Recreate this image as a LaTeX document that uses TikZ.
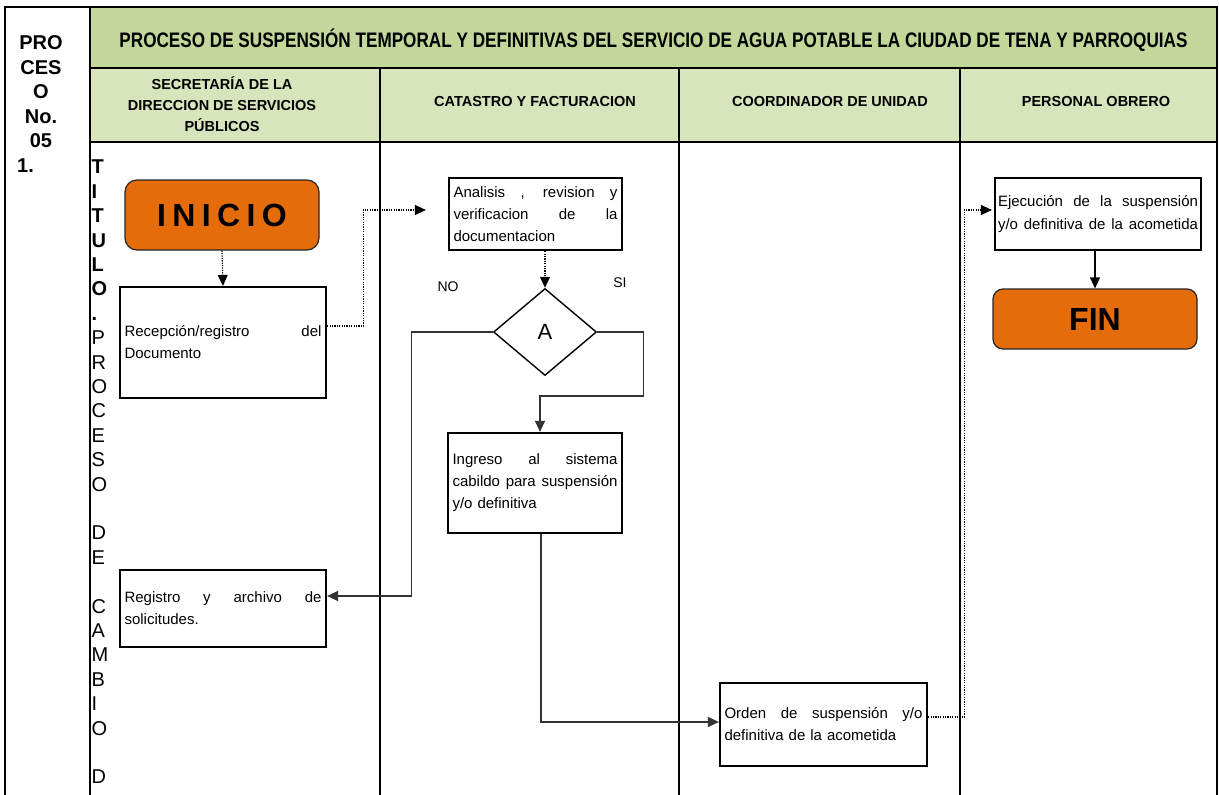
\documentclass[tikz,border=0pt]{standalone}
\usepackage{fontspec}
\setmainfont{Liberation Sans}
\usepackage{graphicx}
\usetikzlibrary{shapes.geometric,arrows.meta}

\definecolor{titlegreen}{RGB}{196,215,155}
\definecolor{headgreen}{RGB}{216,228,188}
\definecolor{startorange}{RGB}{228,108,10}
% a line stretched to the full text width (justified line); the node's
% left alignment fixes the interword space, so restore the font's glue
\newcommand{\fullline}[1]{\makebox[\linewidth][s]{\spaceskip=0pt\xspaceskip=0pt\relax #1}}

\begin{document}
\begin{tikzpicture}[x=1pt,y=-1pt,
  frame/.style={line width=2.8pt},
  procbox/.style={draw, line width=2.2pt, fill=white, inner xsep=4.5pt, inner ysep=0pt,
    align=left, font=\fontsize{15}{22}\selectfont},
  terminal/.style={draw=black!85, line width=1.2pt, fill=startorange, rounded corners=12pt,
    inner sep=0pt, font=\fontsize{32}{32}\selectfont\bfseries},
  decision/.style={diamond, aspect=1.18, draw, line width=1.4pt, fill=white, inner sep=0pt,
    minimum width=103pt, minimum height=87pt, font=\fontsize{22}{22}\selectfont},
  conn/.style={draw=black!80, line width=1.3pt, -{Triangle[length=11pt,width=10pt]}},
  dotconn/.style={draw=black, line width=1.2pt, dash pattern=on 1.2pt off 1.2pt,
    -{Triangle[length=11pt,width=10pt]}},
  lanehead/.style={font=\fontsize{14.5}{21}\selectfont\bfseries, align=center, inner sep=0pt},
  branch/.style={font=\fontsize{14}{14}\selectfont, inner sep=0pt},
]
\useasboundingbox (0,0) rectangle (1219,795);

% table frame and header bands
\fill[titlegreen] (90,7) rectangle (1217,68);
\fill[headgreen] (90,68) rectangle (1217,142);
\draw[frame] (5,795) -- (5,7) -- (1217,7) -- (1217,795);
\draw[frame] (90,7) -- (90,795);
\draw[frame] (90,68) -- (1217,68);
\draw[frame] (90,142) -- (1217,142);
\foreach \x in {380,679,960} \draw[frame] (\x,68) -- (\x,795);

% process number column
\node[anchor=north, align=center, inner sep=0pt, font=\fontsize{20}{24.5}\selectfont\bfseries]
  (procno) at (41,35.7) {PRO\\CES\\O\\No.\\05};
\node[anchor=base west, inner sep=0pt, font=\fontsize{20}{20}\selectfont\bfseries]
  (procitem) at (17,172.5) {1.};

% title
\node[anchor=base, inner sep=0pt] (title) at (653.5,47)
  {\resizebox{1068pt}{\height}{\fontsize{21}{21}\selectfont\bfseries PROCESO DE SUSPENSIÓN TEMPORAL Y DEFINITIVAS DEL SERVICIO DE AGUA POTABLE LA CIUDAD DE TENA Y PARROQUIAS}};

% lane headings
\node[lanehead] (lane1) at (222,104) {SECRETARÍA DE LA\\DIRECCION DE SERVICIOS\\PÚBLICOS};
\node[lanehead] (lane2) at (535,102) {CATASTRO Y FACTURACION};
\node[lanehead] (lane3) at (830,102) {COORDINADOR DE UNIDAD};
\node[lanehead] (lane4) at (1096,102) {PERSONAL OBRERO};

% vertical process title
\node[anchor=north west, align=left, inner sep=0pt, font=\fontsize{20}{24.4}\selectfont]
  (vtitle) at (91.5,160)
  {\textbf{T}\\\textbf{I}\\\textbf{T}\\\textbf{U}\\\textbf{L}\\\textbf{O}\\\textbf{.}\\P\\R\\O\\C\\E\\S\\O\\\mbox{}\\D\\E\\\mbox{}\\C\\A\\M\\B\\I\\O\\\mbox{}\\D};

% flow nodes
\node[terminal, minimum width=194pt, minimum height=70pt] (inicio) at (222,215)
  {\addfontfeature{LetterSpace=20}INICIO};
\node[procbox, minimum width=206pt, minimum height=111pt, text width=197pt] (recep) at (223,342.5)
  {\fullline{Recepción/registro del}\\Documento};
\node[procbox, minimum width=206pt, minimum height=77pt, text width=197pt] (reg) at (223,608.5)
  {\fullline{Registro y archivo de}\\solicitudes.};
\node[procbox, minimum width=173pt, minimum height=72pt, text width=164pt] (anal) at (535.5,214)
  {\fullline{Analisis , revision y}\\\fullline{verificacion de la}\\documentacion};
\node[decision] (dia) at (545,332) {A};
\node[procbox, minimum width=174pt, minimum height=100pt, text width=165pt] (ing) at (535,483)
  {\fullline{Ingreso al sistema}\\\fullline{cabildo para suspensión}\\y/o definitiva};
\node[procbox, minimum width=207pt, minimum height=83pt, text width=198pt] (ord) at (823.5,724.5)
  {\fullline{Orden de suspensión y/o}\\definitiva de la acometida};
\node[procbox, minimum width=206pt, minimum height=72pt, text width=200pt, inner xsep=3pt,
  font=\fontsize{15}{23.5}\selectfont] (ejec) at (1098,214)
  {\fullline{Ejecución de la suspensión}\\\fullline{y/o definitiva de la acometida}};
\node[terminal, rounded corners=10pt, minimum width=204pt, minimum height=60pt] (fin) at (1095,319)
  {FIN};

% branch labels
\node[branch] (lblno) at (448,287) {NO};
\node[branch] (lblsi) at (620,283) {SI};

% connectors
\draw[dotconn] (inicio.south) -- (recep.north);
\draw[dotconn, shorten >=22pt] ([yshift=16.5pt]recep.east) -- ++(36,0) |- ([yshift=4pt]anal.west);
\draw[dotconn] (dia.north |- anal.south) -- (dia.north);
\draw[conn] (dia.west) -| ++(-81,264) -- ([yshift=12.5pt]reg.east);
\draw[conn] (dia.east) -- ++(46,0) -- ++(0,64) -| ([xshift=5pt]ing.north);
\draw[conn] ([xshift=6pt]ing.south) |- ([yshift=2.5pt]ord.west);
\draw[dotconn, shorten >=2pt] ([yshift=7.5pt]ord.east) -- ++(36,0) |- ([yshift=4pt]ejec.west);
\draw[conn, draw=black] (fin.north |- ejec.south) -- (fin.north);
\end{tikzpicture}
\end{document}
